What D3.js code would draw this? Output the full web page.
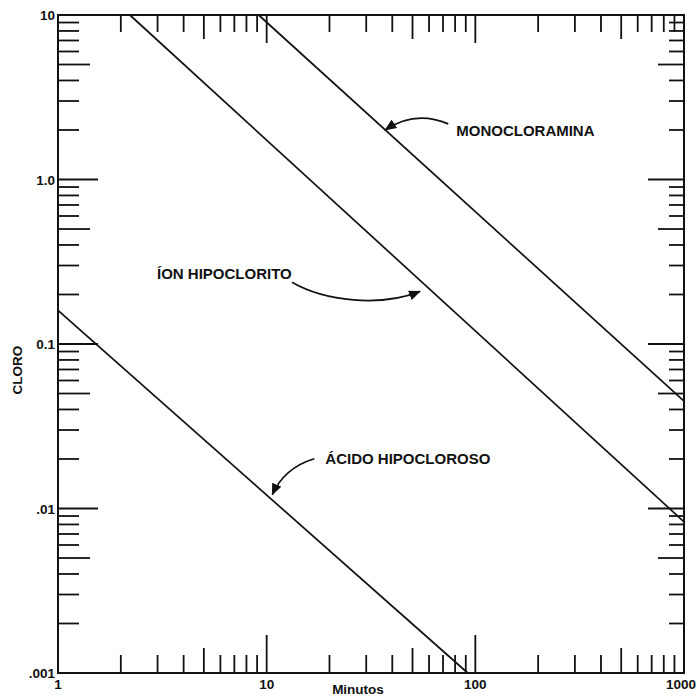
<!DOCTYPE html>
<html>
<head>
<meta charset="utf-8">
<script src="https://cdn.jsdelivr.net/npm/d3@7/dist/d3.min.js"></script>
<style>
  html, body { margin: 0; padding: 0; background: #fff; }
  svg { display: block; }
  text { font-family: "Liberation Sans", Arial, Helvetica, sans-serif; fill: #111; }
</style>
</head>
<body>
<svg id="chart" width="697" height="697"></svg>
<script>
// Decay of chlorine species: log-log lines of chlorine vs. minutes
const xTickLabels = ["1", "10", "100", "1000"];
const xTickValues = [1, 10, 100, 1000];
const yTickLabels = [".001", ".01", "0.1", "1.0", "10"];
const yTickValues = [0.001, 0.01, 0.1, 1, 10];

const seriesNames = ["MONOCLORAMINA", "ÍON HIPOCLORITO", "ÁCIDO HIPOCLOROSO"];
// end points of each straight line (minutes, chlorine)
const monoMinutes = [9.15, 1000];
const monoCloro = [10, 0.045];
const ionMinutes = [2.21, 1000];
const ionCloro = [10, 0.0083];
const acidoMinutes = [1, 92];
const acidoCloro = [0.16, 0.001];
// minute at which each callout arrow points
const calloutMinutes = [37, 62, 11];

const svg = d3.select("#chart");
const x = d3.scaleLog().domain([1, 1000]).range([58, 684]);
const y = d3.scaleLog().domain([0.001, 10]).range([673, 15]);

const X0 = x(1), X1 = x(1000), Y0 = y(0.001), Y1 = y(10);

// tick marks: every 1..9 multiple inside each decade, on all four sides
const tickVals = [];
for (const d of [1, 10, 100]) for (let k = 1; k <= 9; k++) tickVals.push({ v: d * k, k });
const yTickVals = [];
for (const d of [0.001, 0.01, 0.1, 1]) for (let k = 1; k <= 9; k++) yTickVals.push({ v: d * k, k });

const lenFor = (k, major, mid, minor) => k === 1 ? major : (k === 5 ? mid : minor);
const g = svg.append("g").attr("stroke", "#111").attr("stroke-width", 1.8);

tickVals.filter(t => t.v > 1 && t.v < 1000).forEach(t => {
  const px = x(t.v);
  g.append("line").attr("x1", px).attr("x2", px).attr("y1", Y0).attr("y2", Y0 - lenFor(t.k, 38, 25, 18));
  g.append("line").attr("x1", px).attr("x2", px).attr("y1", Y1).attr("y2", Y1 + lenFor(t.k, 28, 24, 17));
});
yTickVals.filter(t => t.v > 0.001 && t.v < 10).forEach(t => {
  const py = y(t.v);
  g.append("line").attr("y1", py).attr("y2", py).attr("x1", X0).attr("x2", X0 + lenFor(t.k, 40, 32, 21));
  g.append("line").attr("y1", py).attr("y2", py).attr("x1", X1).attr("x2", X1 - lenFor(t.k, 36, 26, 15));
});

// frame
svg.append("rect").attr("x", X0).attr("y", Y1).attr("width", X1 - X0).attr("height", Y0 - Y1)
  .attr("fill", "none").attr("stroke", "#111").attr("stroke-width", 2);

// tick labels
svg.append("g").selectAll("text").data(xTickValues).join("text")
  .attr("x", (d, i) => i === 3 ? 696 : x(d)).attr("y", 689)
  .attr("text-anchor", (d, i) => i === 3 ? "end" : "middle")
  .attr("font-size", 13.5).attr("font-weight", "bold")
  .text((d, i) => xTickLabels[i]);

svg.append("g").selectAll("text").data(yTickValues).join("text")
  .attr("x", 55).attr("y", d => y(d) + 5)
  .attr("text-anchor", "end")
  .attr("font-size", 13.5).attr("font-weight", "bold")
  .text((d, i) => yTickLabels[i]);

// axis titles
svg.append("text").attr("x", 358).attr("y", 694).attr("text-anchor", "middle")
  .attr("font-size", 13.5).attr("font-weight", "bold").text("Minutos");
svg.append("text").attr("transform", "translate(22,370) rotate(-90)").attr("text-anchor", "middle")
  .attr("font-size", 13.5).attr("font-weight", "bold").text("CLORO");

// species lines
const lineData = [
  monoMinutes.map((m, i) => [m, monoCloro[i]]),
  ionMinutes.map((m, i) => [m, ionCloro[i]]),
  acidoMinutes.map((m, i) => [m, acidoCloro[i]])
];
const line = d3.line().x(d => x(d[0])).y(d => y(d[1]));
svg.append("g").selectAll("path").data(lineData).join("path")
  .attr("d", line).attr("fill", "none").attr("stroke", "#111").attr("stroke-width", 1.7);

// value on a straight log-log segment
function onLine(seg, m) {
  const [a, b] = seg;
  const t = (Math.log(m) - Math.log(a[0])) / (Math.log(b[0]) - Math.log(a[0]));
  return Math.exp(Math.log(a[1]) + t * (Math.log(b[1]) - Math.log(a[1])));
}

// arrowhead marker
svg.append("defs").append("marker")
  .attr("id", "head").attr("viewBox", "0 0 12 10").attr("refX", 11).attr("refY", 5)
  .attr("markerWidth", 12).attr("markerHeight", 10).attr("markerUnits", "userSpaceOnUse")
  .attr("orient", "auto")
  .append("path").attr("d", "M0,0 L12,5 L0,10 Z").attr("fill", "#111");

// callouts: tip offset from line point, curve shape and label placement (pixels, relative to tip)
const callouts = [
  { tipDx: 0, tipDy: 0, curve: t => `M${t[0] + 63},${t[1] - 6} Q${t[0] + 30},${t[1] - 20} ${t[0]},${t[1]}`,
    label: [71, 6] },
  { tipDx: -12, tipDy: 0, curve: t => `M${t[0] - 128},${t[1] - 9} C${t[0] - 95},${t[1] + 10} ${t[0] - 40},${t[1] + 16} ${t[0]},${t[1]}`,
    label: [-263, -12] },
  { tipDx: -3, tipDy: -8, curve: t => `M${t[0] + 42},${t[1] - 36} C${t[0] + 22},${t[1] - 30} ${t[0] + 8},${t[1] - 18} ${t[0]},${t[1]}`,
    label: [53, -31] }
];

callouts.forEach((c, i) => {
  const m = calloutMinutes[i];
  const tip = [x(m) + c.tipDx, y(onLine(lineData[i], m)) + c.tipDy];
  svg.append("path").attr("d", c.curve(tip)).attr("fill", "none")
    .attr("stroke", "#111").attr("stroke-width", 1.7).attr("marker-end", "url(#head)");
  svg.append("text").attr("x", tip[0] + c.label[0]).attr("y", tip[1] + c.label[1])
    .attr("text-anchor", "start").attr("font-size", 15).attr("font-weight", "bold")
    .text(seriesNames[i]);
});
</script>
</body>
</html>
